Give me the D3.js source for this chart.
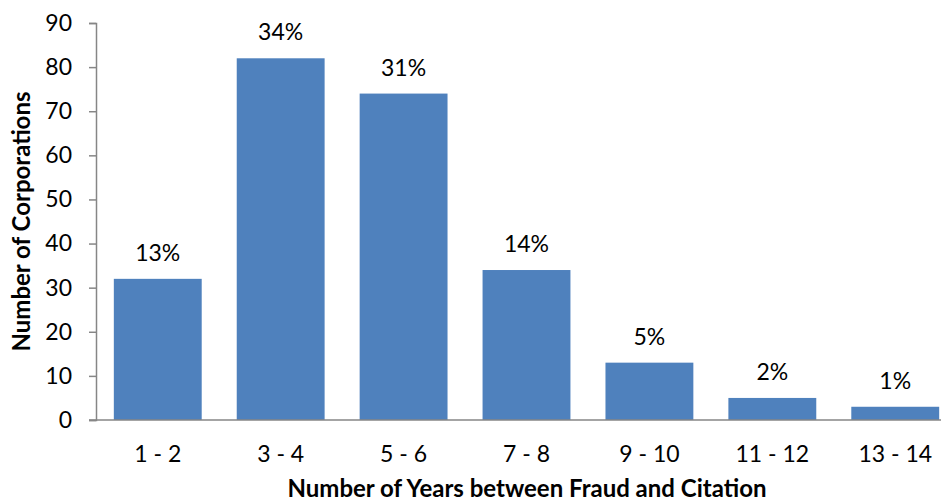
<!DOCTYPE html>
<html>
<head>
<meta charset="utf-8">
<script src="https://cdn.jsdelivr.net/npm/d3@7"></script>
<style>
  html, body { margin: 0; padding: 0; background: #fff; }
  svg { display: block; font-family: Lato, "Open Sans", sans-serif; }
</style>
</head>
<body>
<svg id="chart" width="941" height="504"></svg>
<script>
// Year ranges between fraud and citation
const categories = ["1 - 2", "3 - 4", "5 - 6", "7 - 8", "9 - 10", "11 - 12", "13 - 14"];
// Number of corporations in each range
const counts = [32, 82, 74, 34, 13, 5, 3];
// Share of all corporations, as printed above each bar
const shareLabels = ["13%", "34%", "31%", "14%", "5%", "2%", "1%"];
const yTicks = [0, 10, 20, 30, 40, 50, 60, 70, 80, 90];

const svg = d3.select("#chart");
const margin = { left: 96, top: 23, bottom: 84 };
const plotBottom = 504 - margin.bottom;
const plotRight = 957; // the last category runs past the right edge

const labelSize = 23;
const titleSize = 24;

const x = d3.scaleBand()
  .domain(categories)
  .range([margin.left, plotRight])
  .paddingInner(0.285)
  .paddingOuter(0.145);

const y = d3.scaleLinear()
  .domain([0, 90])
  .range([plotBottom, margin.top]);

const axisColor = "#868686";

// Bars
svg.append("g")
  .selectAll("rect")
  .data(categories)
  .join("rect")
  .attr("x", d => x(d))
  .attr("width", x.bandwidth())
  .attr("y", (d, i) => y(counts[i]))
  .attr("height", (d, i) => y(0) - y(counts[i]))
  .attr("fill", "#4F81BD");

// Percentage labels
svg.append("g")
  .selectAll("text")
  .data(categories)
  .join("text")
  .attr("x", d => x(d) + x.bandwidth() / 2)
  .attr("y", (d, i) => y(counts[i]) - 18)
  .attr("text-anchor", "middle")
  .attr("font-size", labelSize)
  .attr("fill", "#000")
  .text((d, i) => shareLabels[i]);

// Y axis
const yAxis = svg.append("g")
  .attr("transform", `translate(${margin.left},0)`)
  .call(d3.axisLeft(y).tickValues(yTicks).tickSize(7).tickPadding(17));
yAxis.select(".domain").attr("stroke", axisColor).attr("stroke-width", 1.5);
yAxis.selectAll(".tick line").attr("stroke", axisColor).attr("stroke-width", 1.5);
yAxis.selectAll(".tick text")
  .attr("font-size", labelSize)
  .attr("font-family", "Lato, 'Open Sans', sans-serif")
  .attr("fill", "#000");

// X axis
const xAxis = svg.append("g")
  .attr("transform", `translate(0,${plotBottom})`)
  .call(d3.axisBottom(x).tickSize(0).tickPadding(26));
xAxis.select(".domain").remove();
xAxis.append("line")
  .attr("x1", margin.left - 7)
  .attr("x2", plotRight)
  .attr("stroke", axisColor)
  .attr("stroke-width", 1.5);
xAxis.selectAll(".tick text")
  .attr("font-size", labelSize)
  .attr("font-family", "Lato, 'Open Sans', sans-serif")
  .attr("fill", "#000");

// Axis titles
svg.append("text")
  .attr("x", 527)
  .attr("y", 497)
  .attr("text-anchor", "middle")
  .attr("font-size", titleSize)
  .attr("font-weight", "bold")
  .text("Number of Years between Fraud and Citation");

svg.append("text")
  .attr("transform", `translate(30,${(margin.top + plotBottom) / 2}) rotate(-90)`)
  .attr("text-anchor", "middle")
  .attr("font-size", titleSize)
  .attr("font-weight", "bold")
  .text("Number of Corporations");
</script>
</body>
</html>
